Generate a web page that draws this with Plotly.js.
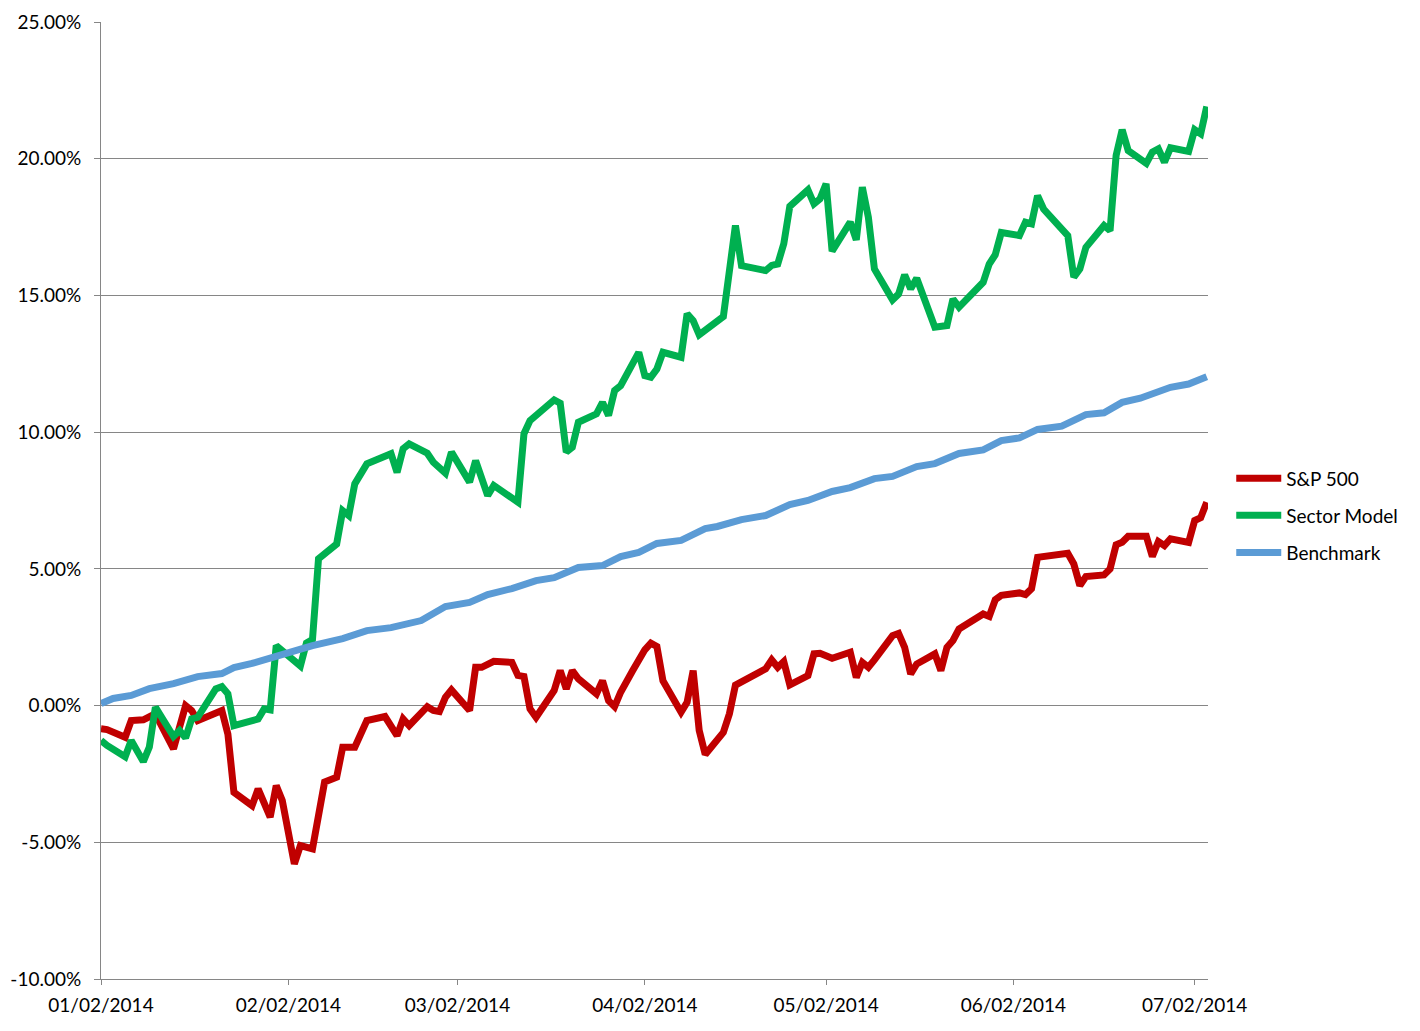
<!DOCTYPE html>
<html>
<head>
<meta charset="utf-8">
<script src="https://cdn.plot.ly/plotly-3.0.1.min.js"></script>
<style>
  html, body { margin: 0; padding: 0; background: #fff; }
  #chart { width: 1420px; height: 1031px; }
</style>
</head>
<body>
<div id="chart"></div>
<script>
// S&P 500 cumulative return (%)
const spDates = [
  "2014-01-02","2014-01-03","2014-01-06","2014-01-07","2014-01-09","2014-01-11","2014-01-14","2014-01-15",
  "2014-01-16","2014-01-17","2014-01-18","2014-01-22","2014-01-23","2014-01-24","2014-01-27","2014-01-28",
  "2014-01-30","2014-01-31","2014-02-01","2014-02-03","2014-02-04","2014-02-06","2014-02-08","2014-02-10",
  "2014-02-11","2014-02-13","2014-02-15","2014-02-18","2014-02-20","2014-02-21","2014-02-22","2014-02-25",
  "2014-02-26","2014-02-27","2014-02-28","2014-03-01","2014-03-04","2014-03-05","2014-03-06","2014-03-08",
  "2014-03-11","2014-03-12","2014-03-13","2014-03-14","2014-03-15","2014-03-18","2014-03-19","2014-03-20",
  "2014-03-21","2014-03-22","2014-03-25","2014-03-26","2014-03-27","2014-03-28","2014-03-29","2014-03-31",
  "2014-04-02","2014-04-03","2014-04-04","2014-04-05","2014-04-07","2014-04-08","2014-04-09","2014-04-10",
  "2014-04-11","2014-04-12","2014-04-15","2014-04-16","2014-04-17","2014-04-21","2014-04-22","2014-04-23",
  "2014-04-24","2014-04-25","2014-04-26","2014-04-29","2014-04-30","2014-05-01","2014-05-03","2014-05-06",
  "2014-05-07","2014-05-08","2014-05-09","2014-05-10","2014-05-13","2014-05-14","2014-05-15","2014-05-16",
  "2014-05-17","2014-05-20","2014-05-21","2014-05-22","2014-05-23","2014-05-24","2014-05-28","2014-05-29",
  "2014-05-30","2014-05-31","2014-06-03","2014-06-04","2014-06-05","2014-06-06","2014-06-11","2014-06-12",
  "2014-06-13","2014-06-14","2014-06-17","2014-06-18","2014-06-19","2014-06-20","2014-06-21","2014-06-24",
  "2014-06-25","2014-06-26","2014-06-27","2014-06-28","2014-07-01","2014-07-02","2014-07-03","2014-07-04"
];
const spValues = [
  -0.85,-0.88,-1.16,-0.55,-0.52,-0.30,-1.58,-0.67,
  0.00,-0.18,-0.55,-0.18,-1.04,-3.17,-3.66,-3.05,
  -4.08,-2.93,-3.47,-5.79,-5.12,-5.24,-2.80,-2.62,
  -1.52,-1.52,-0.55,-0.40,-1.10,-0.49,-0.73,-0.04,
  -0.18,-0.22,0.30,0.57,-0.18,1.40,1.40,1.62,
  1.58,1.10,1.06,-0.12,-0.43,0.55,1.28,0.61,
  1.28,0.98,0.43,0.91,0.18,-0.04,0.49,1.28,
  2.04,2.28,2.16,0.91,0.12,-0.24,0.12,1.28,
  -0.91,-1.79,-0.98,-0.30,0.75,1.28,1.34,1.67,
  1.40,1.61,0.76,1.10,1.89,1.91,1.73,1.95,
  1.03,1.58,1.40,1.67,2.56,2.64,2.13,1.16,
  1.52,1.89,1.28,2.13,2.38,2.80,3.35,3.26,
  3.87,4.03,4.12,4.06,4.27,5.42,5.57,5.18,
  4.39,4.72,4.78,5.00,5.88,5.97,6.19,6.19,
  5.45,6.00,5.85,6.10,5.97,6.77,6.87,7.44
];

// Sector Model cumulative return (%)
const smDates = [
  "2014-01-02","2014-01-03","2014-01-06","2014-01-07","2014-01-09","2014-01-10","2014-01-11","2014-01-14",
  "2014-01-15","2014-01-16","2014-01-17","2014-01-18","2014-01-21","2014-01-22","2014-01-23","2014-01-24",
  "2014-01-28","2014-01-29","2014-01-30","2014-01-31","2014-02-04","2014-02-05","2014-02-06","2014-02-07",
  "2014-02-10","2014-02-11","2014-02-12","2014-02-13","2014-02-15","2014-02-19","2014-02-20","2014-02-21",
  "2014-02-22","2014-02-25","2014-02-26","2014-02-28","2014-03-01","2014-03-04","2014-03-05","2014-03-07",
  "2014-03-08","2014-03-10","2014-03-12","2014-03-13","2014-03-14","2014-03-18","2014-03-19","2014-03-20",
  "2014-03-21","2014-03-22","2014-03-25","2014-03-26","2014-03-27","2014-03-28","2014-03-29","2014-04-01",
  "2014-04-02","2014-04-03","2014-04-04","2014-04-05","2014-04-08","2014-04-09","2014-04-10","2014-04-11",
  "2014-04-15","2014-04-17","2014-04-18","2014-04-22","2014-04-23","2014-04-24","2014-04-25","2014-04-26",
  "2014-04-29","2014-04-30","2014-05-01","2014-05-02","2014-05-03","2014-05-06","2014-05-07","2014-05-08",
  "2014-05-09","2014-05-10","2014-05-13","2014-05-14","2014-05-15","2014-05-16","2014-05-17","2014-05-20",
  "2014-05-22","2014-05-23","2014-05-24","2014-05-28","2014-05-29","2014-05-30","2014-05-31","2014-06-03",
  "2014-06-04","2014-06-05","2014-06-06","2014-06-07","2014-06-11","2014-06-12","2014-06-13","2014-06-14",
  "2014-06-17","2014-06-18","2014-06-19","2014-06-20","2014-06-21","2014-06-24","2014-06-25","2014-06-26",
  "2014-06-27","2014-06-28","2014-07-01","2014-07-02","2014-07-03","2014-07-04"
];
const smValues = [
  -1.28,-1.46,-1.87,-1.28,-2.05,-1.52,-0.06,-1.13,
  -0.91,-1.18,-0.49,-0.43,0.61,0.69,0.43,-0.73,
  -0.49,-0.12,-0.16,2.19,1.45,2.29,2.42,5.37,
  5.91,7.13,6.95,8.11,8.84,9.21,8.53,9.39,
  9.57,9.23,8.90,8.50,9.27,8.17,8.96,7.68,
  8.05,7.77,7.44,9.94,10.42,11.18,11.06,9.27,
  9.45,10.36,10.67,11.09,10.61,11.52,11.70,12.92,
  12.07,12.01,12.31,12.92,12.74,14.33,14.08,13.56,
  14.23,17.56,16.09,15.91,16.10,16.15,16.89,18.26,
  18.86,18.35,18.53,19.08,16.62,17.68,17.03,18.96,
  17.86,15.97,14.84,15.05,15.75,15.24,15.63,13.84,
  13.90,14.87,14.57,15.48,16.15,16.49,17.30,17.19,
  17.68,17.62,18.65,18.16,17.19,15.67,15.97,16.76,
  17.56,17.37,20.12,21.06,20.30,19.83,20.24,20.36,
  19.87,20.40,20.27,21.06,20.91,21.91
];

// Benchmark cumulative return (%)
const bmDates = [
  "2014-01-02","2014-01-04","2014-01-07","2014-01-10","2014-01-14","2014-01-18","2014-01-22","2014-01-24",
  "2014-01-27","2014-02-02","2014-02-06","2014-02-11","2014-02-15","2014-02-19","2014-02-24","2014-02-28",
  "2014-03-04","2014-03-07","2014-03-11","2014-03-15","2014-03-18","2014-03-22","2014-03-26","2014-03-29",
  "2014-04-01","2014-04-04","2014-04-08","2014-04-12","2014-04-14","2014-04-18","2014-04-22","2014-04-26",
  "2014-04-29","2014-05-03","2014-05-06","2014-05-10","2014-05-13","2014-05-17","2014-05-20","2014-05-24",
  "2014-05-28","2014-05-31","2014-06-03","2014-06-06","2014-06-10","2014-06-14","2014-06-17","2014-06-20",
  "2014-06-23","2014-06-28","2014-07-01","2014-07-04"
];
const bmValues = [
  0.07,0.26,0.37,0.62,0.80,1.06,1.17,1.39,
  1.54,1.94,2.19,2.45,2.74,2.85,3.11,3.62,
  3.77,4.06,4.28,4.57,4.68,5.05,5.12,5.45,
  5.60,5.93,6.04,6.47,6.55,6.80,6.95,7.35,
  7.50,7.83,7.97,8.30,8.38,8.74,8.85,9.22,
  9.35,9.69,9.79,10.10,10.22,10.64,10.71,11.09,
  11.24,11.64,11.76,12.03
];

const xTickVals = ["2014-01-02","2014-02-02","2014-03-02","2014-04-02","2014-05-02","2014-06-02","2014-07-02"];
const xTickText = ["01/02/2014","02/02/2014","03/02/2014","04/02/2014","05/02/2014","06/02/2014","07/02/2014"];
const yTickVals = [-10, -5, 0, 5, 10, 15, 20, 25];
const yTickText = ["-10.00%","-5.00%","0.00%","5.00%","10.00%","15.00%","20.00%","25.00%"];

const fontFam = "Lato, 'Open Sans', sans-serif";
const axisGrey = "#868686";

// each series in its own legend group so tracegroupgap spaces the entries
const traces = [
  { x: spDates, y: spValues, name: "S&P 500", type: "scatter", mode: "lines", legendgroup: "a",
    line: { color: "#C00000", width: 7 } },
  { x: smDates, y: smValues, name: "Sector Model", type: "scatter", mode: "lines", legendgroup: "b",
    line: { color: "#00B050", width: 7 } },
  { x: bmDates, y: bmValues, name: "Benchmark", type: "scatter", mode: "lines", legendgroup: "c",
    line: { color: "#5B9BD5", width: 7 } }
];

const layout = {
  width: 1420,
  height: 1031,
  margin: { l: 101, r: 212, t: 22, b: 52 },
  paper_bgcolor: "#fff",
  plot_bgcolor: "#fff",
  font: { family: fontFam, size: 19, color: "#000" },
  showlegend: true,
  legend: {
    x: 1.021, y: 0.484, xanchor: "left", yanchor: "middle",
    itemwidth: 45,
    tracegroupgap: 9.5,
    font: { family: fontFam, size: 19, color: "#000" },
    bgcolor: "rgba(0,0,0,0)"
  },
  xaxis: {
    type: "date",
    range: ["2014-01-02", "2014-07-04 05:00"],
    tickvals: xTickVals,
    ticktext: xTickText,
    ticks: "outside", ticklen: 5, tickcolor: axisGrey, tickwidth: 1,
    ticklabelstandoff: 4,
    showgrid: false, zeroline: false,
    showline: true, linecolor: axisGrey, linewidth: 1,
    tickfont: { family: fontFam, size: 19, color: "#000" }
  },
  yaxis: {
    range: [-10, 25],
    tickvals: yTickVals,
    ticktext: yTickText,
    ticks: "outside", ticklen: 6, tickcolor: axisGrey, tickwidth: 1,
    ticklabelstandoff: 9,
    showgrid: true, gridcolor: axisGrey, gridwidth: 1,
    zeroline: false,
    showline: true, linecolor: axisGrey, linewidth: 1,
    tickfont: { family: fontFam, size: 19, color: "#000" }
  }
};

Plotly.newPlot("chart", traces, layout, { displayModeBar: false, staticPlot: true });
</script>
</body>
</html>
